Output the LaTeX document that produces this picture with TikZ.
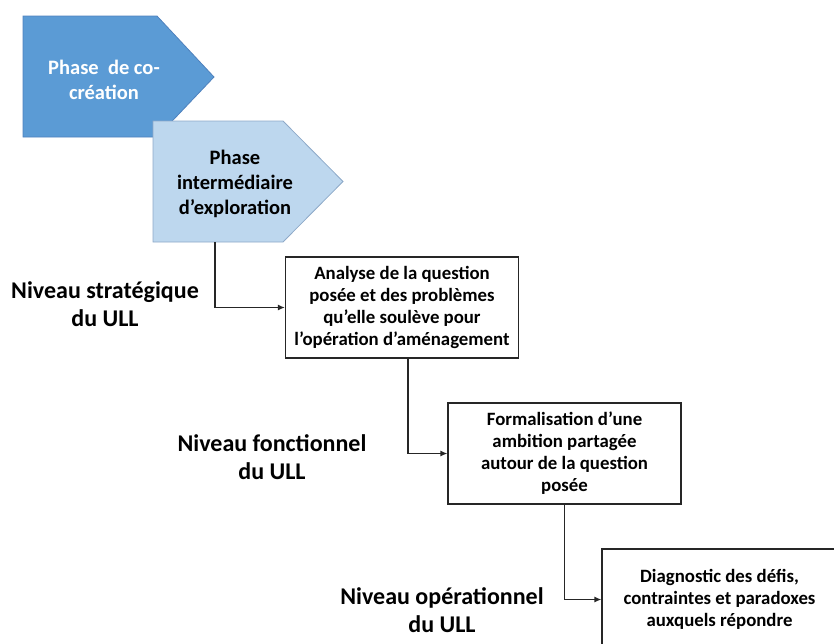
\documentclass[tikz,border=0pt]{standalone}
\usepackage{fontspec}
\setmainfont{Carlito}
\usetikzlibrary{arrows.meta}
\definecolor{phasedark}{HTML}{5B9BD5}
\definecolor{phasedarkline}{HTML}{4F81BD}
\definecolor{phaselight}{HTML}{BDD7EE}
\definecolor{phaselightline}{HTML}{8EA9C8}
\tikzset{
  phasearrow/.style={line width=0.8pt, line join=miter},
  phasetext/.style={align=center, inner sep=0pt,
                    font=\bfseries\fontsize{20.5}{25}\selectfont},
  stepbox/.style={draw=black!85, line width=1.1pt, fill=white, align=center,
                  minimum width=233pt, minimum height=101pt, inner sep=0pt,
                  font=\bfseries\fontsize{18.8}{22}\selectfont},
  levellabel/.style={align=center, inner sep=0pt,
                     font=\bfseries\fontsize{24}{28}\selectfont},
  link/.style={draw=black!85, line width=1.6pt, -{Latex[length=7pt,width=6pt]}},
}

\begin{document}
\begin{tikzpicture}[x=1pt, y=-1pt]
    \useasboundingbox (0,0) rectangle (834,643);
    % phases
    \filldraw[phasearrow, fill=phasedark, draw=phasedarkline]
      (23,16) -- (157,16) -- (214,77) -- (157,137) -- (23,137) -- cycle;
    \node[phasetext, text=white] (cocreation) at (104,80) {Phase~ de co-\\création};
    \filldraw[phasearrow, fill=phaselight, draw=phaselightline]
      (153,121) -- (283,121) -- (343,181.5) -- (283,242) -- (153,242) -- cycle;
    \node[phasetext, text=black] (exploration) at (235,184) {Phase\\intermédiaire\\d’exploration};
    \coordinate (exploration-foot) at (215,242);
    % levels
    \node[stepbox] (analyse) at (402,307.5) {Analyse de la question\\posée et des problèmes\\qu’elle soulève pour\\l’opération d’aménagement};
    \node[stepbox] (ambition) at (564.5,453.5) {Formalisation d’une\\ambition partagée\\autour de la question\\posée};
    \node[stepbox, minimum width=235pt] (diagnostic) at (719.5,599.5) {Diagnostic des défis,\\contraintes et paradoxes\\auxquels répondre};
    \node[levellabel] (strategique) at (105,304) {Niveau stratégique\\du ULL};
    \node[levellabel] (fonctionnel) at (272,457) {Niveau fonctionnel\\du ULL};
    \node[levellabel] (operationnel) at (442,610) {Niveau opérationnel\\du ULL};
    % links
    \draw[link] (exploration-foot) |- (analyse.west);
    \draw[link] ([xshift=6pt]analyse.south) |- (ambition.west);
    \draw[link] (ambition.south) |- (diagnostic.west);
\end{tikzpicture}
\end{document}
